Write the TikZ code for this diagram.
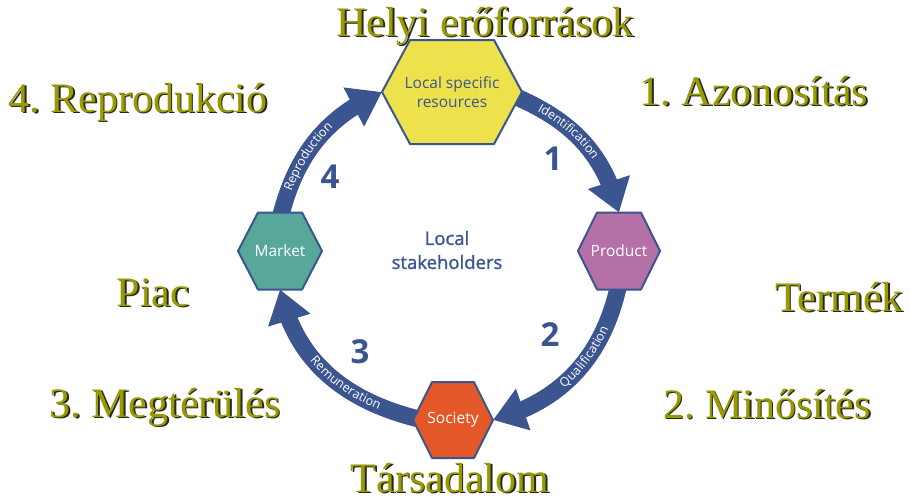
\documentclass[tikz,border=0pt]{standalone}
\usepackage{fontspec}
\setmainfont{Liberation Serif}
\newfontfamily\serifT{Liberation Serif}
\newfontfamily\osans{Open Sans}
\newfontfamily\osansm[FakeBold=1.3]{Open Sans}
\usetikzlibrary{arrows.meta,bending,decorations.text,calc}
\definecolor{arrowblue}{RGB}{59,85,145}
\definecolor{olivetxt}{RGB}{153,153,0}
\definecolor{hexyellow}{RGB}{237,226,76}
\definecolor{hexpurple}{RGB}{182,112,168}
\definecolor{hexteal}{RGB}{88,168,154}
\definecolor{hexorange}{RGB}{228,87,40}
\pgfdeclarelayer{bg}
\pgfdeclarelayer{mid}
\pgfsetlayers{bg,mid,main}
\tikzset{
  bigtxt/.style={font=\serifT\frenchspacing\fontsize{42}{42}\selectfont, text=olivetxt, anchor=base, inner sep=0pt},
  bigsh/.style={font=\serifT\frenchspacing\fontsize{42}{42}\selectfont, text=black!85, anchor=base, inner sep=0pt},
  hexnode/.style={rectangle, inner sep=0pt, outer sep=0pt, align=center, text=white,
    font=\osans\fontsize{15.5}{19}\selectfont},
  hexline/.style={draw=arrowblue, line width=2pt, line join=round},
  band/.style={draw=arrowblue, line width=17pt, -{Triangle[width=42pt,length=32pt]}},
  bandtext/.style={decorate, decoration={text along path, raise=-3.5pt,
    text={|\color{white}\osans\fontsize{12.5}{12.5}\selectfont|#1}}},
  num/.style={font=\osans\bfseries\fontsize{33}{33}\selectfont, text=arrowblue, inner sep=0pt},
  midtxt/.style={font=\osansm\fontsize{18.5}{24}\selectfont, text=arrowblue, align=center, inner sep=0pt},
}
\newcommand\hexfill[3]{\filldraw[hexline, fill=#2] (#1.west) -- ([xshift=#3]#1.north west) -- ([xshift=-#3]#1.north east) -- (#1.east) -- ([xshift=-#3]#1.south east) -- ([xshift=#3]#1.south west) -- cycle;}
\newcommand\olabel[4]{%
  \node[bigsh] (#1s) at (#2+1.8,-#3-1.8) {#4};
  \node[bigtxt] (#1) at (#2,-#3) {#4};}
\begin{document}
\begin{tikzpicture}[x=1pt,y=1pt]
\useasboundingbox (0,0) rectangle (910,-499);
% hexagon nodes
\node[hexnode, minimum width=140pt, minimum height=104pt, text=arrowblue] (lsr) at (452,-92) {Local specific\\resources};
\node[hexnode, minimum width=82pt, minimum height=77pt] (prod) at (619,-251) {Product};
\node[hexnode, minimum width=84pt, minimum height=77pt] (mkt) at (280,-251) {Market};
\node[hexnode, minimum width=80pt, minimum height=76pt] (soc) at (453,-420) {Society};
\begin{pgfonlayer}{mid}
\hexfill{lsr}{hexyellow}{28pt}
\hexfill{prod}{hexpurple}{19pt}
\hexfill{mkt}{hexteal}{20pt}
\hexfill{soc}{hexorange}{19pt}
\end{pgfonlayer}
% arrows
\begin{pgfonlayer}{bg}
\draw[band] ([shift={(-8pt,-4pt)}]lsr.east) to[out=-23, in=104] (prod.north);
\draw[band] ([yshift=6pt]prod.south) to[out=-102, in=15] (soc.east);
\draw[band] ([xshift=10pt]soc.west) to[out=167, in=-78] (mkt.south);
\draw[band] ([yshift=-6pt]mkt.north) to[out=76, in=-156] (lsr.west);
\end{pgfonlayer}
% arrow labels
\path[bandtext=Identification, decoration={text align={center, right indent=32pt}}]
  ([shift={(-8pt,-4pt)}]lsr.east) to[out=-23, in=104] (prod.north);
\path[bandtext=Qualification, decoration={text align={center, left indent=32pt}}]
  (soc.east) to[out=15, in=-102] ([yshift=6pt]prod.south);
\path[bandtext=Remuneration, decoration={text align={center, left indent=32pt}}]
  (mkt.south) to[out=-78, in=167] ([xshift=10pt]soc.west);
\path[bandtext=Reproduction, decoration={text align={center, right indent=32pt}}]
  ([yshift=-6pt]mkt.north) to[out=76, in=-156] (lsr.west);
% numbers
\node[num] (n1) at (553,-159) {1};
\node[num] (n2) at (550,-335) {2};
\node[num] (n3) at (360,-352) {3};
\node[num] (n4) at (330,-177) {4};
% centre
\node[midtxt] (stake) at (447,-250) {Local\\stakeholders};
% outer labels
\olabel{t1}{485}{36}{Helyi erőforrások}
\olabel{t2}{754}{105}{1. Azonosítás}
\olabel{t3}{138}{112}{4. Reprodukció}
\olabel{t4}{839}{311}{Termék}
\olabel{t5}{153}{306}{Piac}
\olabel{t6}{767}{418}{2. Minősítés}
\olabel{t7}{165}{417}{3. Megtérülés}
\olabel{t8}{450}{492}{Társadalom}
\end{tikzpicture}
\end{document}
